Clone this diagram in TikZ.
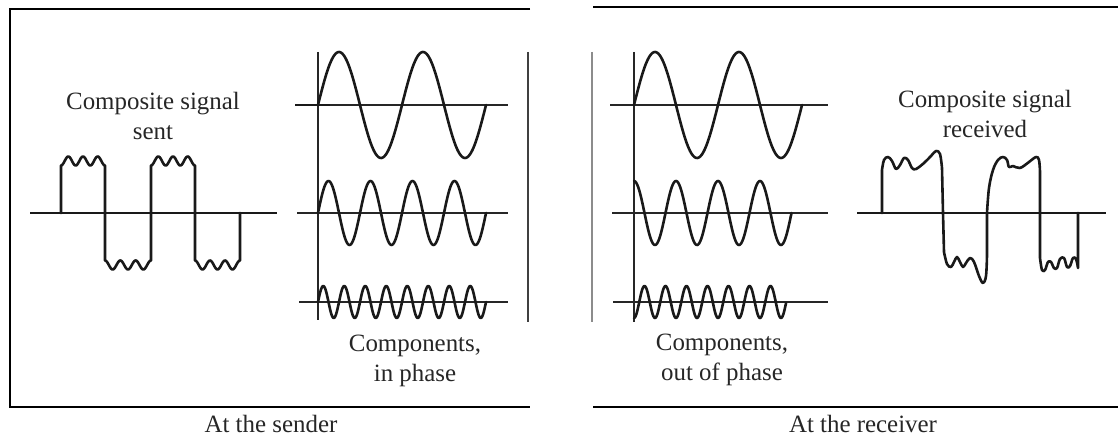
\documentclass[tikz,border=0pt]{standalone}
\usepackage{fontspec}
\setmainfont{Liberation Serif}
\begin{document}
\begin{tikzpicture}[x=1bp,y=-1bp,
  frame/.style={line width=1.4bp, black},
  axisline/.style={line width=1.3bp, black!85},
  baseline/.style={line width=2.2bp, black!90},
  wave/.style={line width=2.6bp, black!90, line join=round, line cap=round},
  lbl/.style={font=\fontsize{25}{30}\selectfont, text=black!85, align=center, inner sep=0pt}]
\useasboundingbox (0,0) rectangle (1118,436);

% ---------------- left panel frame ----------------
\draw[frame] (530,9) -- (10,9) -- (10,407) -- (530,407);
\draw[line width=1.3bp, black!75] (528,52) -- (528,322);

% ---------------- composite signal sent ----------------
\draw[baseline] (30,213) -- (277,213);
\draw[wave] (61,213) -- (61,165.5)
  -- plot[domain=0:1,samples=61] ({61+44*\x},{161-4.5*cos(1080*(\x-1/6))})
  -- (105,213) -- (105,260.5)
  -- plot[domain=0:1,samples=61] ({105+46*\x},{265+4.5*cos(1080*(\x-1/6))})
  -- (151,213) -- (151,165.5)
  -- plot[domain=0:1,samples=61] ({151+44*\x},{161-4.5*cos(1080*(\x-1/6))})
  -- (195,213) -- (195,260.5)
  -- plot[domain=0:1,samples=61] ({195+45*\x},{265+4.5*cos(1080*(\x-1/6))})
  -- (240,213);
\node[lbl] (sentlbl) at (153,116) {Composite signal\\sent};

% ---------------- components in phase ----------------
\draw[axisline] (318,52) -- (318,320);
\draw[axisline] (295,105) -- (508,105);
\draw[line width=2.6bp, black!90] (295,105) -- (330,105);
\draw[axisline] (297,213) -- (508,213);
\draw[axisline] (299,302) -- (508,302);
\draw[wave] plot[domain=0:168,samples=160] ({318+\x},{105-53*sin(4.285714*\x)});
\draw[wave] plot[domain=0:168,samples=200] ({318+\x},{213-32*sin(8.571429*\x)});
\draw[wave] plot[domain=0:168,samples=260] ({318+\x},{302-16*sin(17.142857*\x)});
\node[lbl] (inphase) at (415,361) {Components,\\in phase};

\node[lbl] (sender) at (271,424) {At the sender};

% ---------------- right panel frame ----------------
\draw[frame] (593,7) -- (1118,7);
\draw[frame] (593,407) -- (1118,407);
\draw[line width=1.4bp, black!45] (592,52) -- (592,322);

% ---------------- components out of phase ----------------
\draw[line width=1.8bp, black!85] (634,52) -- (634,322);
\draw[axisline] (610,105) -- (828,105);
\draw[axisline] (612,213) -- (828,213);
\draw[axisline] (613,302) -- (828,302);
\draw[wave] plot[domain=0:168,samples=160] ({634+\x},{105-53*sin(4.285714*\x)});
\draw[wave] plot[domain=0:157.5,samples=200] ({634+\x},{213-32*cos(8.571429*\x)});
\draw[wave] plot[domain=0:152,samples=260] ({634+\x},{302+16*cos(17.142857*\x)});
\node[lbl] (outphase) at (722,360) {Components,\\out of phase};

% ---------------- composite signal received ----------------
\draw[baseline] (857,213) -- (1106,213);
\draw[wave] (882,213) -- (882,170)
  -- plot[smooth,tension=0.6] coordinates {(882,170) (884,160) (888,157) (892,161) (896,169) (900,165) (904,158) (908,160) (912,168) (916,169) (924,163) (931,156) (936,151) (940,154) (942,168)}
  -- (943,213) -- (944,252)
  -- plot[smooth,tension=0.6] coordinates {(944,252) (947,264) (951,267) (954,262) (957,257) (960,262) (963,267) (966,263) (970,258) (974,262) (979,276) (983,283) (986,276) (987,255)}
  -- (987,213)
  -- plot[smooth,tension=0.6] coordinates {(987,213) (989,188) (993,170) (998,160) (1003,157) (1007,160) (1009,167) (1013,166) (1020,168) (1029,162) (1036,157) (1039,160) (1040,172)}
  -- (1040,213) -- (1040,258)
  -- plot[smooth,tension=0.6] coordinates {(1040,258) (1042,270) (1045,270) (1048,262) (1051,262) (1054,268) (1057,268) (1060,259) (1064,258) (1067,267) (1070,266) (1073,258) (1076,259) (1078,268)}
  -- (1078,213);
\node[lbl] (recvlbl) at (985,114) {Composite signal\\received};

\node[lbl] (receiver) at (863,424) {At the receiver};
\end{tikzpicture}
\end{document}
